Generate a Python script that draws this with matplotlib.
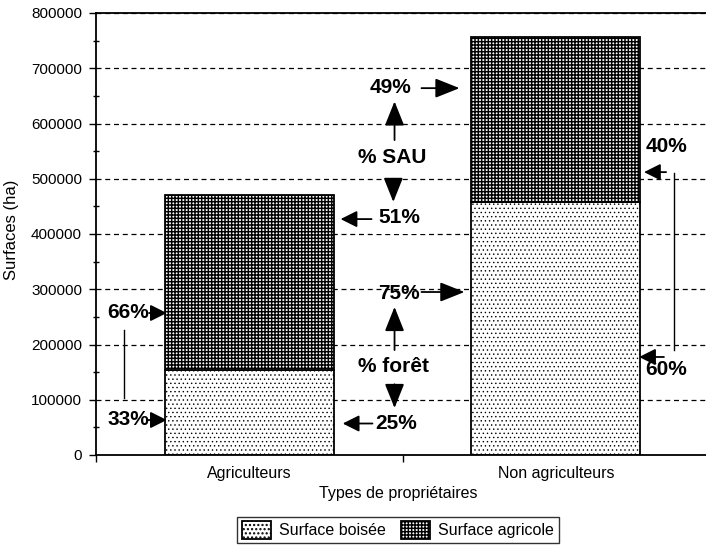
import matplotlib
matplotlib.use("Agg")
import matplotlib.pyplot as plt
import numpy as np

categories = ["Agriculteurs", "Non agriculteurs"]
surface_boisee = [154000, 458000]
surface_agricole = [316000, 299000]
y_ticks = [0, 100000, 200000, 300000, 400000, 500000, 600000, 700000, 800000]

plt.rcParams['font.family'] = ['Liberation Sans', 'DejaVu Sans']
plt.rcParams['hatch.color'] = 'black'

fig = plt.figure(figsize=(7.06, 5.55), dpi=100)
ax = fig.add_axes([96/706, 1-455/555, 613/706, 442/555])

x = np.arange(len(categories))
w = 0.55
plt.rcParams['hatch.linewidth'] = 0.5
ax.bar(x, surface_boisee, width=w, facecolor='white', edgecolor='black',
       hatch='....', linewidth=1.3, label='Surface boisée', zorder=2)
plt.rcParams['hatch.linewidth'] = 1.05
ax.bar(x, surface_agricole, bottom=surface_boisee, width=w, facecolor='white',
       edgecolor='black', hatch='+++++', linewidth=1.3, label='Surface agricole', zorder=2)

ax.set_xlim(-0.5, 1.5)
ax.set_ylim(0, 800000)
ax.set_yticks(y_ticks)
ax.set_yticklabels([str(v) for v in y_ticks], fontsize=11)
ax.set_yticks(np.arange(50000, 800000, 100000), minor=True)
ax.tick_params(axis='y', which='major', direction='out', length=5, width=1, pad=5)
ax.tick_params(axis='y', which='minor', direction='inout', length=5, width=1)
ax.set_xticks([-0.5, 0.5, 1.5])
ax.set_xticklabels([])
ax.set_xticks(x, minor=True)
ax.set_xticklabels(categories, minor=True, fontsize=11.5)
ax.tick_params(axis='x', which='major', direction='out', length=5, width=1)
ax.tick_params(axis='x', which='minor', length=0, pad=8)

for s in ['left', 'bottom', 'top', 'right']:
    ax.spines[s].set_linewidth(1.3)

ax.set_axisbelow(True)
ax.yaxis.grid(True, which='major', color='black', linestyle=(0, (4, 3)), linewidth=0.9)

ax.set_ylabel("Surfaces (ha)", fontsize=12)
ax.yaxis.set_label_coords(-0.125, 0.51)
ax.set_xlabel("Types de propriétaires", fontsize=11.5)
ax.xaxis.set_label_coords(0.493, -0.07)

leg = fig.legend(loc='center', bbox_to_anchor=(398/706, 1-530/555), ncol=2,
                 fontsize=11.5, frameon=True, fancybox=False, edgecolor='black',
                 handlelength=1.8, handleheight=1.3, handletextpad=0.5,
                 columnspacing=1.0, borderpad=0.3, borderaxespad=0)
leg.get_frame().set_linewidth(1.0)

bold = dict(fontsize=15, fontweight='bold', ha='center', va='center', zorder=4)
big = dict(arrowstyle='-|>,head_length=1.5,head_width=0.6', color='black',
           lw=1.3, shrinkA=0, shrinkB=0, mutation_scale=10)
small = dict(arrowstyle='-|>,head_length=1.0,head_width=0.5', color='black',
             lw=1.3, shrinkA=0, shrinkB=0, mutation_scale=10)

def arrow(x0, y0, x1, y1, props):
    ax.annotate('', xy=(x1, y1), xytext=(x0, y0), arrowprops=props, zorder=5,
                annotation_clip=False)

# SAU annotations
ax.text(0.461, 666000, "49%", **bold)
arrow(0.562, 664000, 0.686, 664000, big)
arrow(0.474, 570000, 0.474, 640000, big)
ax.text(0.467, 537600, "% SAU", **bold)
arrow(0.470, 500000, 0.470, 458000, big)
ax.text(0.490, 429000, "51%", bbox=dict(facecolor='white', edgecolor='none',
        boxstyle='square,pad=0.3'), **bold)
arrow(0.399, 427000, 0.298, 427000, small)

# forêt annotations
ax.text(0.490, 293200, "75%", **bold)
arrow(0.562, 295000, 0.702, 295000, big)
arrow(0.474, 190000, 0.474, 268000, big)
ax.text(0.471, 159300, "% forêt", **bold)
arrow(0.474, 128000, 0.474, 85000, big)
ax.text(0.480, 57900, "25%", **bold)
arrow(0.402, 57000, 0.305, 57000, small)

# left bar annotations
ax.text(-0.396, 258800, "66%", **bold)
arrow(-0.327, 257000, -0.269, 257000, small)
ax.plot([-0.409, -0.409], [103200, 226250], color='black', lw=1.0, zorder=4)
ax.text(-0.396, 63350, "33%", **bold)
arrow(-0.331, 63350, -0.269, 63350, small)

# right bar annotations
ax.text(1.360, 557500, "40%", **bold)
arrow(1.360, 512000, 1.288, 512000, small)
ax.plot([1.386, 1.386], [190000, 510400], color='black', lw=1.0, zorder=4)
ax.text(1.360, 153850, "60%", **bold)
arrow(1.353, 177400, 1.272, 177400, small)

fig.savefig("out.png", dpi=100)
